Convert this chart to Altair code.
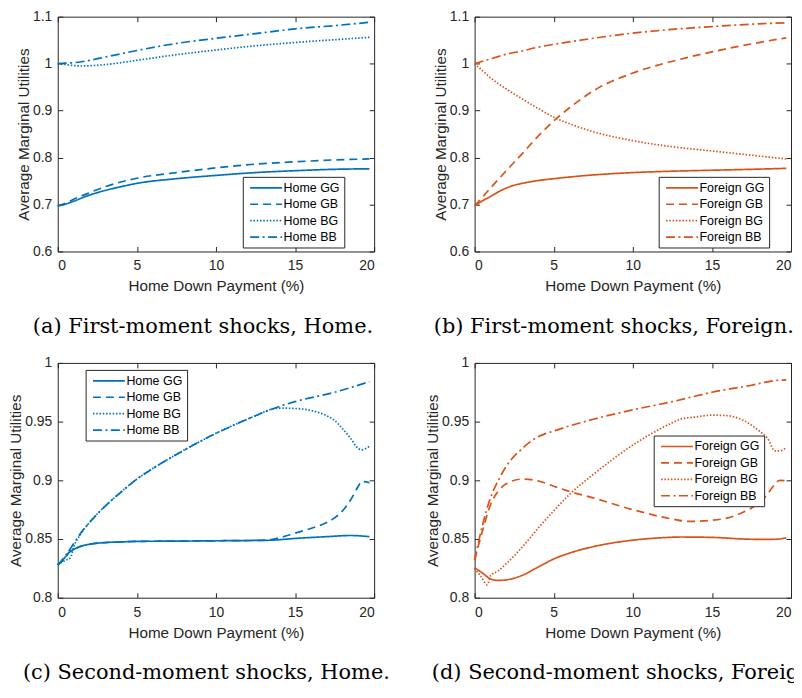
import altair as alt
import pandas as pd

BLUE = "#0072BD"
ORANGE = "#D95319"
INK = "#262626"
SANS = "Liberation Sans"
SERIF = "DejaVu Serif"

# ---------------- data ----------------
# (a) First-moment shocks, Home
a_gg_x = [0, 0.5, 1, 2, 3, 4, 5, 7.5, 10, 12.5, 15, 17.5, 19.7]
a_gg_y = [0.697, 0.701, 0.707, 0.72, 0.73, 0.738, 0.745, 0.755, 0.762, 0.768, 0.772, 0.775, 0.776]
a_gb_x = [0, 0.5, 1, 2, 3, 4, 5, 7.5, 10, 12.5, 15, 17.5, 19.7]
a_gb_y = [0.697, 0.703, 0.711, 0.725, 0.738, 0.748, 0.756, 0.768, 0.778, 0.786, 0.791, 0.795, 0.797]
a_bg_x = [0, 0.5, 1, 1.5, 2, 3, 4, 5, 7.5, 10, 12.5, 15, 17.5, 19.7]
a_bg_y = [1.0, 0.998, 0.996, 0.995, 0.9955, 0.998, 1.002, 1.007, 1.019, 1.029, 1.038, 1.045, 1.051, 1.056]
a_bb_x = [0, 0.5, 1, 1.5, 2, 3, 4, 5, 7.5, 10, 12.5, 15, 17.5, 19.7]
a_bb_y = [1.0, 1.001, 1.002, 1.004, 1.007, 1.014, 1.021, 1.028, 1.043, 1.054, 1.064, 1.074, 1.081, 1.088]

# (b) First-moment shocks, Foreign
b_gg_x = [0, 0.5, 1, 1.5, 2, 2.5, 3, 4, 5, 7.5, 10, 12.5, 15, 17.5, 19.7]
b_gg_y = [0.697, 0.708, 0.717, 0.727, 0.735, 0.741, 0.745, 0.751, 0.755, 0.763, 0.768, 0.771, 0.773, 0.775, 0.777]
b_gb_x = [0, 0.5, 1, 2, 3, 4, 5, 6, 7.5, 10, 12.5, 15, 17.5, 19.7]
b_gb_y = [0.697, 0.716, 0.735, 0.772, 0.808, 0.845, 0.878, 0.906, 0.942, 0.98, 1.005, 1.025, 1.042, 1.055]
b_bg_x = [0, 0.5, 1, 2, 3, 4, 5, 6, 7.5, 10, 12.5, 15, 17.5, 19.7]
b_bg_y = [1.0, 0.985, 0.97, 0.946, 0.925, 0.905, 0.886, 0.872, 0.855, 0.836, 0.823, 0.814, 0.805, 0.797]
b_bb_x = [0, 0.5, 1, 2, 3, 4, 5, 7.5, 10, 12.5, 15, 17.5, 19.7]
b_bb_y = [1.0, 1.005, 1.01, 1.02, 1.027, 1.035, 1.041, 1.054, 1.065, 1.073, 1.079, 1.084, 1.087]

# (c) Second-moment shocks, Home
c_gg_x = [0, 0.25, 0.5, 0.75, 1, 1.5, 2, 3, 4, 5, 7.5, 10, 12.5, 13.5, 15, 17, 18.5, 19.7]
c_gg_y = [0.828, 0.831, 0.835, 0.839, 0.841, 0.844, 0.8455, 0.847, 0.8475, 0.848, 0.8482, 0.8485,
          0.8488, 0.849, 0.8505, 0.852, 0.853, 0.852]
c_gb_x = [0, 0.25, 0.5, 0.75, 1, 1.5, 2, 3, 4, 5, 7.5, 10, 12.5, 13.5, 14, 15, 16, 17, 17.5, 18,
          18.5, 19, 19.2, 19.7]
c_gb_y = [0.828, 0.831, 0.835, 0.839, 0.841, 0.844, 0.8455, 0.847, 0.8475, 0.848, 0.8482, 0.8485,
          0.8488, 0.8495, 0.851, 0.855, 0.859, 0.864, 0.868, 0.874, 0.883, 0.895, 0.899, 0.898]
c_bg_x = [0, 0.5, 0.8, 1, 1.5, 2, 3, 4, 5, 6, 7.5, 10, 12.5, 13.5, 14, 15, 16, 17, 17.5, 18, 18.5,
          19, 19.2, 19.7]
c_bg_y = [0.828, 0.832, 0.834, 0.843, 0.855, 0.864, 0.878, 0.89, 0.901, 0.91, 0.922, 0.94, 0.955,
          0.9605, 0.9615, 0.9612, 0.9595, 0.955, 0.951, 0.944, 0.936, 0.927, 0.926, 0.929]
c_bb_x = [0, 0.5, 1, 1.5, 2, 3, 4, 5, 6, 7.5, 10, 12.5, 13.5, 15, 17.5, 19.7]
c_bb_y = [0.828, 0.836, 0.846, 0.856, 0.864, 0.878, 0.89, 0.901, 0.91, 0.922, 0.94, 0.955, 0.9605,
          0.967, 0.975, 0.984]

# (d) Second-moment shocks, Foreign
d_gg_x = [0, 0.5, 1, 1.5, 2, 3, 4, 5, 6, 7.5, 10, 12, 13, 15, 17, 18, 19, 19.7]
d_gg_y = [0.8255, 0.821, 0.816, 0.8147, 0.8152, 0.819, 0.826, 0.833, 0.838, 0.8435, 0.849, 0.8512,
          0.8517, 0.8514, 0.85, 0.8497, 0.8498, 0.851]
d_gb_x = [0, 0.5, 1, 1.5, 2, 3, 4, 5, 6, 7.5, 10, 12.5, 13.5, 15, 16, 17, 18, 18.5, 19, 19.3, 19.7]
d_gb_y = [0.832, 0.857, 0.879, 0.891, 0.897, 0.901, 0.8995, 0.895, 0.8905, 0.885, 0.875, 0.867,
          0.865, 0.866, 0.868, 0.873, 0.881, 0.888, 0.897, 0.9, 0.8995]
d_bg_x = [0, 0.4, 0.8, 1, 1.5, 2, 3, 4, 5, 6, 7.5, 10, 12.5, 13, 14, 15, 16, 17, 18, 18.5, 19, 19.3, 19.7]
d_bg_y = [0.825, 0.818, 0.811, 0.8185, 0.823, 0.829, 0.843, 0.859, 0.874, 0.888, 0.905, 0.93, 0.949,
          0.952, 0.954, 0.9555, 0.955, 0.951, 0.942, 0.936, 0.925, 0.925, 0.928]
d_bb_x = [0, 0.5, 1, 1.5, 2, 3, 4, 5, 7.5, 10, 12.5, 15, 17.5, 19, 19.7]
d_bb_y = [0.832, 0.862, 0.885, 0.9, 0.912, 0.927, 0.937, 0.942, 0.952, 0.96, 0.967, 0.975, 0.981,
          0.985, 0.9855]

home_names = ["Home GG", "Home GB", "Home BG", "Home BB"]
foreign_names = ["Foreign GG", "Foreign GB", "Foreign BG", "Foreign BB"]
x_ticks = [0, 5, 10, 15, 20]
y_ticks_first = [0.6, 0.7, 0.8, 0.9, 1.0, 1.1]
y_ticks_second = [0.8, 0.85, 0.9, 0.95, 1.0]
captions = [
    "(a) First-moment shocks, Home.",
    "(b) First-moment shocks, Foreign.",
    "(c) Second-moment shocks, Home.",
    "(d) Second-moment shocks, Foreign.",
]

DASHES = [[1, 0], [8, 5], [1.5, 1.8], [9, 3.5, 2, 3.5]]
LEG_PATH = "M-0.6,0H4.75"

W, H = 318, 236
PAD_L, PAD_T = 50, 7
COL_GAP, ROW_GAP = 101, 112
TOTAL_W, TOTAL_H = 790, 676


def make_df(names, xs, ys):
    rows = []
    for name, xv, yv in zip(names, xs, ys):
        for a, b in zip(xv, yv):
            rows.append({"x": a, "y": b, "series": name})
    return pd.DataFrame(rows)


def panel(df, names, color, ydom, yticks, legx, legy, caption, cap_dx):
    xs = alt.Scale(domain=[0, 20], nice=False, zero=False)
    ys = alt.Scale(domain=ydom, nice=False, zero=False)
    lines = alt.Chart(df).mark_line(color=color, strokeWidth=1.7, interpolate="monotone").encode(
        x=alt.X("x:Q", scale=xs, axis=alt.Axis(
            values=x_ticks, orient="bottom", offset=-5, tickSize=5, domain=False,
            labelPadding=7.5, title="Home Down Payment (%)", titlePadding=6, format="~g")),
        y=alt.Y("y:Q", scale=ys, axis=alt.Axis(
            values=yticks, orient="left", offset=-5, tickSize=5, domain=False,
            labelPadding=6, title="Average Marginal Utilities", titlePadding=1, format="~g")),
        strokeDash=alt.StrokeDash("series:N", scale=alt.Scale(domain=names, range=DASHES),
                                  legend=alt.Legend(
                                      orient="none", legendX=legx, legendY=legy, title=None,
                                      fillColor="white", strokeColor=INK, padding=4,
                                      labelFont=SANS, labelFontSize=12.5, labelColor="black",
                                      symbolType=LEG_PATH, symbolSize=144, symbolStrokeWidth=1.7,
                                      symbolStrokeColor=color, labelOffset=23, rowPadding=2.5,
                                      labelLimit=300)),
    )
    frame = alt.Chart(df).mark_line(opacity=0).encode(
        x=alt.X("x:Q", scale=xs, axis=alt.Axis(
            values=x_ticks, orient="top", offset=-5, tickSize=5, domain=False, labels=False,
            title=None)),
        y=alt.Y("y:Q", scale=ys, axis=alt.Axis(
            values=yticks, orient="right", offset=-5, tickSize=5, domain=False, labels=False,
            title=None)),
        detail="series:N",
    )
    return alt.layer(lines, frame).resolve_axis(x="independent", y="independent").properties(
        width=W, height=H,
        title=alt.TitleParams(text=caption, orient="bottom", anchor="start", frame="group",
                              dx=cap_dx, offset=22, font=SERIF, fontSize=21,
                              fontWeight="normal", color="black"),
    )


df_a = make_df(home_names, [a_gg_x, a_gb_x, a_bg_x, a_bb_x], [a_gg_y, a_gb_y, a_bg_y, a_bb_y])
df_b = make_df(foreign_names, [b_gg_x, b_gb_x, b_bg_x, b_bb_x], [b_gg_y, b_gb_y, b_bg_y, b_bb_y])
df_c = make_df(home_names, [c_gg_x, c_gb_x, c_bg_x, c_bb_x], [c_gg_y, c_gb_y, c_bg_y, c_bb_y])
df_d = make_df(foreign_names, [d_gg_x, d_gb_x, d_bg_x, d_bb_x], [d_gg_y, d_gb_y, d_bg_y, d_bb_y])

pa = panel(df_a, home_names, BLUE, [0.6, 1.1], y_ticks_first, 186, 161, captions[0], -25)
pb = panel(df_b, foreign_names, ORANGE, [0.6, 1.1], y_ticks_first, 185, 161, captions[1], -41)
pc = panel(df_c, home_names, BLUE, [0.8, 1.0], y_ticks_second, 28, 7, captions[2], -35)
pd_ = panel(df_d, foreign_names, ORANGE, [0.8, 1.0], y_ticks_second, 180, 73, captions[3], -43)

chart = alt.concat(
    pa, pb, pc, pd_, columns=2, spacing={"row": ROW_GAP, "column": COL_GAP}, bounds="flush"
).resolve_scale(strokeDash="independent").resolve_legend(strokeDash="independent").properties(
    autosize=alt.AutoSizeParams(type="none"),
    padding={"left": PAD_L, "top": PAD_T, "right": TOTAL_W - PAD_L, "bottom": TOTAL_H - PAD_T},
).configure_view(stroke=INK, strokeWidth=1).configure_axis(
    labelFont=SANS, labelFontSize=14, labelColor=INK, titleFont=SANS, titleFontSize=15.3,
    titleFontWeight="normal", titleColor=INK, tickColor=INK, tickWidth=1, grid=False
)

chart.save("out.html", embed_options={"renderer": "svg", "actions": False})
